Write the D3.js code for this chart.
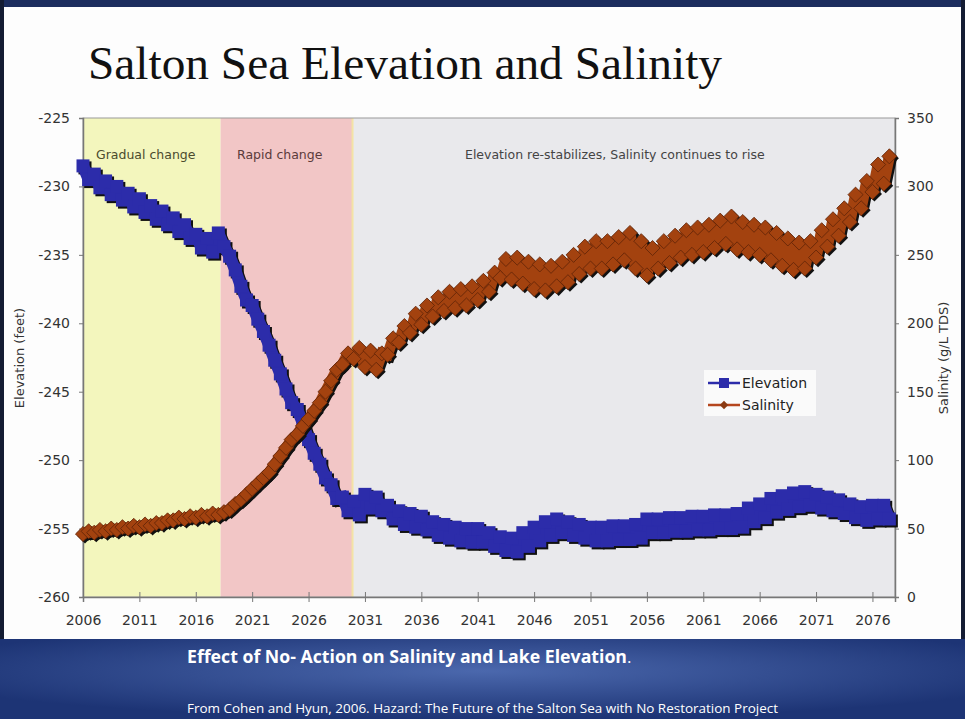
<!DOCTYPE html>
<html>
<head>
<meta charset="utf-8">
<script src="https://cdn.jsdelivr.net/npm/d3@7.9.0/dist/d3.min.js"></script>
<style>
  html, body { margin: 0; padding: 0; background: #fff; }
  svg { display: block; }
  .tick-label { font-family: "DejaVu Sans", Verdana, sans-serif; font-size: 14px; fill: #333; }
</style>
</head>
<body>
<svg id="slide" width="965" height="719"></svg>
<script>
// ---------- Data ----------
const years = d3.range(2006, 2078);
const xTicks = [2006, 2011, 2016, 2021, 2026, 2031, 2036, 2041, 2046, 2051, 2056, 2061, 2066, 2071, 2076];
const elevTicks = [-260, -255, -250, -245, -240, -235, -230, -225];
const salTicks = [0, 50, 100, 150, 200, 250, 300, 350];

// elevation (feet), read twice a year: winter (high) and summer (low)
const elevationWinter = [
  -228.5, -229.1, -229.6, -230.0, -230.5, -230.9, -231.4, -231.8, -232.3, -232.8,
  -233.5, -233.8, -233.4, -235.1, -237.3, -238.7, -240.6, -242.7, -244.8, -246.3,
  -248.5, -250.3, -251.8, -252.7, -253.0, -252.5, -252.7, -253.3, -253.7, -253.9,
  -254.1, -254.5, -254.7, -254.9, -255.0, -255.0, -255.3, -255.6, -255.7, -255.3,
  -254.9, -254.5, -254.3, -254.5, -254.7, -254.9, -254.9, -254.8, -254.8, -254.7,
  -254.3, -254.3, -254.2, -254.2, -254.1, -254.1, -254.0, -254.0, -253.9, -253.5,
  -253.2, -252.8, -252.6, -252.4, -252.3, -252.5, -252.7, -252.9, -253.2, -253.4,
  -253.3, -253.3
];
const elevationSummer = [
  -229.5, -230.1, -230.6, -231.0, -231.5, -231.9, -232.4, -232.8, -233.3, -233.8,
  -234.5, -234.8, -234.4, -236.1, -238.3, -239.7, -241.6, -243.7, -245.8, -247.3,
  -249.5, -251.3, -252.8, -253.7, -254.0, -253.5, -253.7, -254.3, -254.7, -254.9,
  -255.1, -255.5, -255.7, -255.9, -256.0, -256.0, -256.3, -256.6, -256.7, -256.3,
  -255.9, -255.5, -255.3, -255.5, -255.7, -255.9, -255.9, -255.8, -255.8, -255.7,
  -255.3, -255.3, -255.2, -255.2, -255.1, -255.1, -255.0, -255.0, -254.9, -254.5,
  -254.2, -253.8, -253.6, -253.4, -253.3, -253.5, -253.7, -253.9, -254.2, -254.4,
  -254.3, -254.3
];
// salinity (g/L TDS), winter (low) and summer (high)
const salinityWinter = [
  46, 47, 48, 49, 50, 51, 52, 54, 56, 57,
  58, 59, 60, 64, 71, 79, 87, 97, 109, 119,
  130, 142, 158, 170, 174, 168, 166, 177, 186, 193,
  199, 205, 209, 211, 213, 217, 223, 233, 232, 229,
  225, 224, 227, 230, 236, 240, 240, 243, 246, 240,
  235, 240, 244, 248, 250, 252, 255, 258, 254, 252,
  250, 246, 242, 239, 240, 248, 256, 264, 274, 284,
  296, 302
];
const salinitySummer = [
  48, 49, 50, 51, 52, 53, 54, 56, 58, 59,
  60, 61, 62, 68, 75, 83, 91, 103, 115, 125,
  136, 150, 166, 178, 182, 180, 178, 189, 198, 207,
  213, 219, 223, 225, 227, 231, 237, 247, 248, 245,
  243, 242, 245, 250, 256, 260, 260, 263, 266, 260,
  255, 260, 264, 268, 270, 272, 275, 278, 274, 272,
  270, 266, 262, 259, 260, 268, 276, 284, 294, 304,
  316, 322
];

const phaseLabels = ["Gradual change", "Rapid change", "Elevation re-stabilizes, Salinity continues to rise"];
const phaseBounds = [2006, 2018.2, 2029.9, 2078];

// ---------- Build series ----------
function halfYearSeries(winter, summer) {
  const out = [];
  years.forEach((yr, i) => {
    out.push({ t: yr, v: winter[i] });
    out.push({ t: yr + 0.5, v: summer[i] });
  });
  return out;
}
const elevation = halfYearSeries(elevationWinter, elevationSummer);
const salinity = halfYearSeries(salinityWinter, salinitySummer);

// ---------- Layout ----------
const svg = d3.select("#slide");
const W = 965, H = 719;
const plot = { left: 83, right: 895, top: 118, bottom: 597 };

const x = d3.scaleLinear().domain([2006, 2078]).range([plot.left, plot.right]);
const yL = d3.scaleLinear().domain([-260, -225]).range([plot.bottom, plot.top]);
const yR = d3.scaleLinear().domain([0, 350]).range([plot.bottom, plot.top]);

const defs = svg.append("defs");
const grad = defs.append("radialGradient").attr("id", "band")
  .attr("cx", "50%").attr("cy", "40%").attr("r", "60%");
grad.append("stop").attr("offset", "0%").attr("stop-color", "#4b68ad");
grad.append("stop").attr("offset", "100%").attr("stop-color", "#1d3475");

// slide frame
svg.append("rect").attr("width", W).attr("height", H).attr("fill", "#fdfdfd");
svg.append("rect").attr("width", W).attr("height", 7).attr("fill", "#1c2d5e");
svg.append("rect").attr("width", 4).attr("height", H).attr("fill", "#141c33");
svg.append("rect").attr("x", W - 4).attr("width", 4).attr("height", H).attr("fill", "#141c33");
svg.append("rect").attr("y", 639).attr("width", W).attr("height", H - 639).attr("fill", "url(#band)");

// title
svg.append("text")
  .attr("x", 88).attr("y", 79)
  .attr("textLength", 634).attr("lengthAdjust", "spacingAndGlyphs")
  .style("font-family", "'Liberation Serif', 'Times New Roman', serif")
  .style("font-size", "47px").style("fill", "#111")
  .text("Salton Sea Elevation and Salinity");

// ---------- Phase regions ----------
const phaseFill = ["#f3f6bd", "#f2c6c6", "#e9e9ec"];
const phaseText = ["#4b4b2e", "#5b3b3b", "#444"];
phaseLabels.forEach((lab, i) => {
  svg.append("rect")
    .attr("x", x(phaseBounds[i])).attr("y", plot.top)
    .attr("width", x(phaseBounds[i + 1]) - x(phaseBounds[i]))
    .attr("height", plot.bottom - plot.top)
    .attr("fill", phaseFill[i]);
});
// thin yellowish edge between pink and grey
svg.append("line")
  .attr("x1", x(phaseBounds[2])).attr("x2", x(phaseBounds[2]))
  .attr("y1", plot.top).attr("y2", plot.bottom)
  .attr("stroke", "#f3e3a6").attr("stroke-width", 2);

const phaseTextX = [96, 237, 465];
phaseLabels.forEach((lab, i) => {
  svg.append("text")
    .attr("x", phaseTextX[i]).attr("y", 159)
    .style("font-family", "'DejaVu Sans', Verdana, sans-serif")
    .style("font-size", "12.5px").style("fill", phaseText[i])
    .text(lab);
});

// plot border (top/right)
svg.append("rect")
  .attr("x", plot.left).attr("y", plot.top)
  .attr("width", plot.right - plot.left).attr("height", plot.bottom - plot.top)
  .attr("fill", "none").attr("stroke", "#9a9a9a").attr("stroke-width", 1);

// ---------- Axes ----------
const axisColor = "#777";
const plain = d => String(d);
const xAxis = svg.append("g")
  .attr("transform", `translate(0,${plot.bottom})`)
  .call(d3.axisBottom(x).tickValues(xTicks).tickFormat(plain).tickSize(5).tickPadding(13));
xAxis.selectAll(".tick line").attr("y1", -5).attr("stroke", axisColor);

const yAxisL = svg.append("g")
  .attr("transform", `translate(${plot.left},0)`)
  .call(d3.axisLeft(yL).tickValues(elevTicks).tickFormat(plain).tickSize(4).tickPadding(9));
const yAxisR = svg.append("g")
  .attr("transform", `translate(${plot.right},0)`)
  .call(d3.axisRight(yR).tickValues(salTicks).tickFormat(plain).tickSize(4).tickPadding(8));

[xAxis, yAxisL, yAxisR].forEach(g => {
  g.select(".domain").attr("stroke", axisColor).attr("stroke-width", 1.5);
  g.selectAll(".tick line").attr("stroke", axisColor);
  g.selectAll(".tick text").attr("class", "tick-label").attr("fill", "#333");
});

svg.append("text")
  .attr("transform", `translate(24,358) rotate(-90)`)
  .attr("text-anchor", "middle")
  .style("font-family", "'DejaVu Sans', Verdana, sans-serif")
  .style("font-size", "13px").style("fill", "#333")
  .text("Elevation (feet)");
svg.append("text")
  .attr("transform", `translate(948,358) rotate(-90)`)
  .attr("text-anchor", "middle")
  .style("font-family", "'DejaVu Sans', Verdana, sans-serif")
  .style("font-size", "13px").style("fill", "#333")
  .text("Salinity (g/L TDS)");

// ---------- Series ----------
// Each series: a thick stroke through the seasonal points (so the band is solid,
// like the overlapping markers in the original) plus the markers themselves,
// all with a hard black drop shadow.
const elevColor = "#2c2caa";
const salColor = "#a3420f";
const shadow = "#111";
const sq = 13;
const diamond = d3.symbol().type(d3.symbolDiamond2).size(145);

function drawSeries(data, yScale, color, markerFn, strokeW) {
  const line = d3.line().x(d => x(d.t)).y(d => yScale(d.v));
  const layers = [{ dx: 2, dy: 2, fill: shadow, mk: false }, { dx: 0, dy: 0, fill: color, mk: true }];
  layers.forEach(l => {
    const g = svg.append("g").attr("transform", `translate(${l.dx},${l.dy})`);
    g.append("path").datum(data)
      .attr("fill", "none").attr("stroke", l.fill).attr("stroke-width", strokeW)
      .attr("stroke-linejoin", "miter").attr("stroke-miterlimit", 1.5)
      .attr("d", line);
    data.forEach(d => markerFn(g, x(d.t), yScale(d.v), l.fill, l.mk));
  });
}

drawSeries(elevation, yL, elevColor, (g, cx, cy, fill) => {
  g.append("rect").attr("x", cx - sq / 2).attr("y", cy - sq / 2)
    .attr("width", sq).attr("height", sq).attr("fill", fill);
}, 12);

drawSeries(salinity, yR, salColor, (g, cx, cy, fill, mk) => {
  g.append("path").attr("d", diamond())
    .attr("transform", `translate(${cx},${cy})`).attr("fill", fill)
    .attr("stroke", mk ? "#5e2307" : "none").attr("stroke-width", 0.8);
}, 11);

// ---------- Legend ----------
const lg = svg.append("g").attr("transform", "translate(704,370)");
lg.append("rect").attr("width", 112).attr("height", 46).attr("fill", "#fafafa");
const legendItems = [
  { label: "Elevation", color: elevColor, y: 13, shape: "square" },
  { label: "Salinity", color: "#b5461e", y: 35, shape: "diamond" }
];
legendItems.forEach(it => {
  lg.append("line").attr("x1", 4).attr("x2", 36).attr("y1", it.y).attr("y2", it.y)
    .attr("stroke", it.color).attr("stroke-width", 2.5);
  if (it.shape === "square") {
    lg.append("rect").attr("x", 15).attr("y", it.y - 5).attr("width", 10).attr("height", 10).attr("fill", it.color);
  } else {
    lg.append("path").attr("d", d3.symbol().type(d3.symbolDiamond2).size(45)())
      .attr("transform", `translate(20,${it.y})`).attr("fill", "#8a3a12");
  }
  lg.append("text").attr("x", 38).attr("y", it.y + 5)
    .style("font-family", "'DejaVu Sans', Verdana, sans-serif")
    .style("font-size", "14px").style("fill", "#222")
    .text(it.label);
});

// ---------- Footer text ----------
const cap = svg.append("text")
  .attr("x", 187).attr("y", 663)
  .style("font-family", "'Open Sans', 'Liberation Sans', sans-serif")
  .style("fill", "#fff");
cap.append("tspan").style("font-weight", "bold").style("font-size", "17px")
  .attr("textLength", 440).attr("lengthAdjust", "spacingAndGlyphs")
  .text("Effect of No- Action on Salinity and Lake Elevation");
cap.append("tspan").style("font-size", "17px").text(".");

svg.append("text")
  .attr("x", 187).attr("y", 713)
  .attr("textLength", 591).attr("lengthAdjust", "spacingAndGlyphs")
  .style("font-family", "'Open Sans', 'Liberation Sans', sans-serif")
  .style("font-size", "12.5px").style("fill", "#fff")
  .text("From Cohen and Hyun, 2006. Hazard: The Future of the Salton Sea with No Restoration Project");
</script>
</body>
</html>
